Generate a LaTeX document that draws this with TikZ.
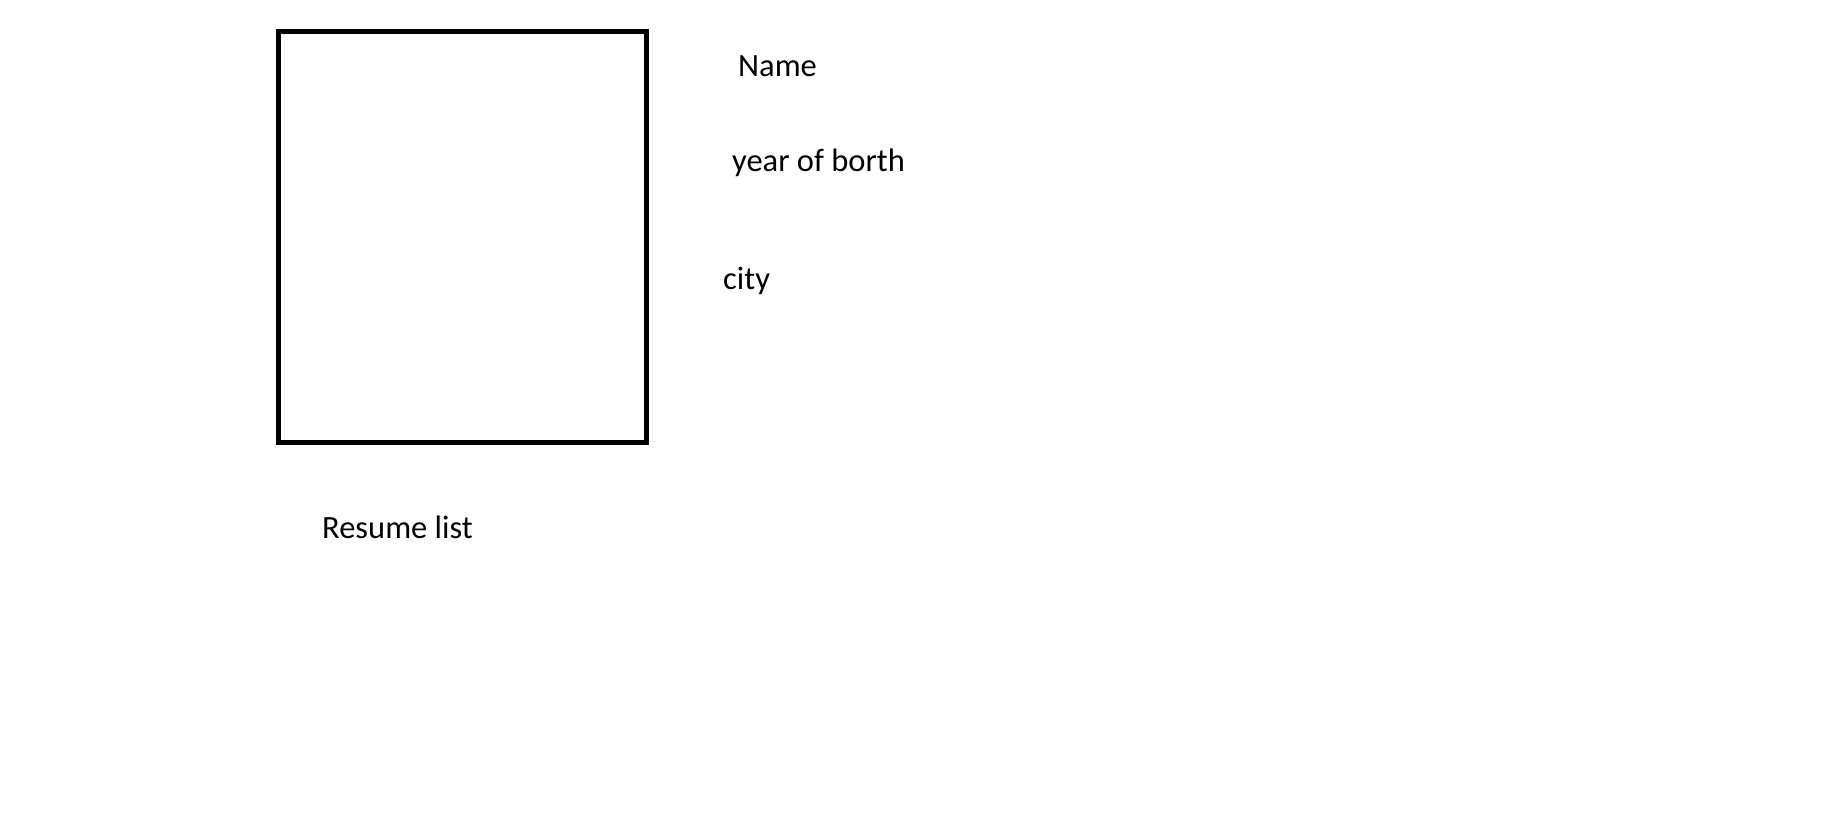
\documentclass[tikz,border=0pt]{standalone}
\usepackage{fontspec}
\setmainfont{Carlito}
\begin{document}
\begin{tikzpicture}[x=1pt,y=-1pt,
  lbl/.style={anchor=base west,inner sep=0pt,font=\fontsize{32.5}{38}\selectfont},
  photo/.style={draw,line width=5pt}]
\useasboundingbox (0,0) rectangle (1833,815);
\draw[photo] (278.5,31.5) rectangle (646.2,442.5);
\node[lbl] (name) at (738,76) {Name};
\node[lbl] (year) at (732,171) {year of borth};
\node[lbl] (city) at (723,289) {city};
\node[lbl] (resume) at (322,538) {Resume list};
\end{tikzpicture}
\end{document}
